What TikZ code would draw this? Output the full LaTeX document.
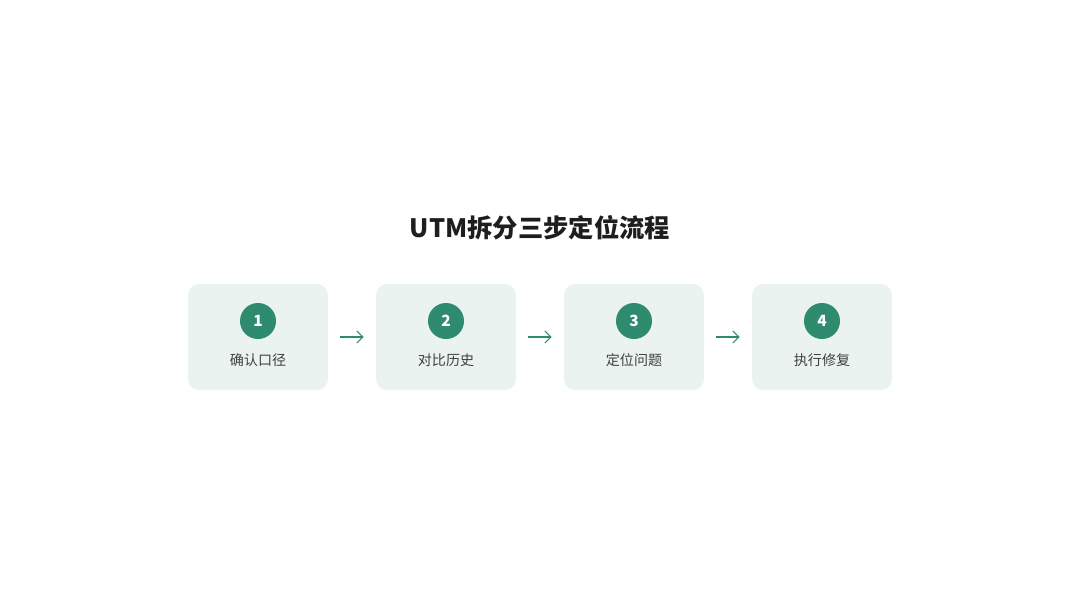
\documentclass[tikz,border=0pt]{standalone}
\usepackage{fontspec}
\setmainfont{Noto Sans CJK SC}
\usetikzlibrary{arrows.meta,positioning}
\definecolor{stepgreen}{RGB}{46,139,110}
\definecolor{stepfill}{RGB}{234,243,240}
\definecolor{titleblack}{RGB}{30,30,30}
\tikzset{
  stepbox/.style={fill=stepfill, rounded corners=8pt, minimum width=3.5cm, minimum height=2.65cm},
  badge/.style={circle, fill=stepgreen, minimum size=0.9cm, inner sep=0pt,
                text=white, font=\fontsize{11}{11}\selectfont\bfseries},
  steplabel/.style={font=\fontsize{10}{12}\selectfont, text=titleblack!85},
  flow/.style={-{Straight Barb[length=1.5mm]}, thick, stepgreen}
}
\begin{document}
\begin{tikzpicture}[x=0.025cm, y=-0.025cm]
  \useasboundingbox (0,0) rectangle (1080,600);
  % title
  \node[font=\fontsize{18}{20}\selectfont\bfseries, text=titleblack] (title) at (540,228) {UTM拆分三步定位流程};
  % steps
  \foreach \i/\txt in {1/确认口径, 2/对比历史, 3/定位问题, 4/执行修复} {
    \node[stepbox] (box\i) at ({258+188*(\i-1)},337) {};
    \node[badge] (num\i) at ({258+188*(\i-1)},321) {\i};
    \node[steplabel] (lbl\i) at ({258+188*(\i-1)},360) {\txt};
  }
  % arrows
  \foreach \i/\j in {1/2, 2/3, 3/4}
    \draw[flow] ([xshift=0.3cm]box\i.east) -- ([xshift=-0.3cm]box\j.west);
\end{tikzpicture}
\end{document}
